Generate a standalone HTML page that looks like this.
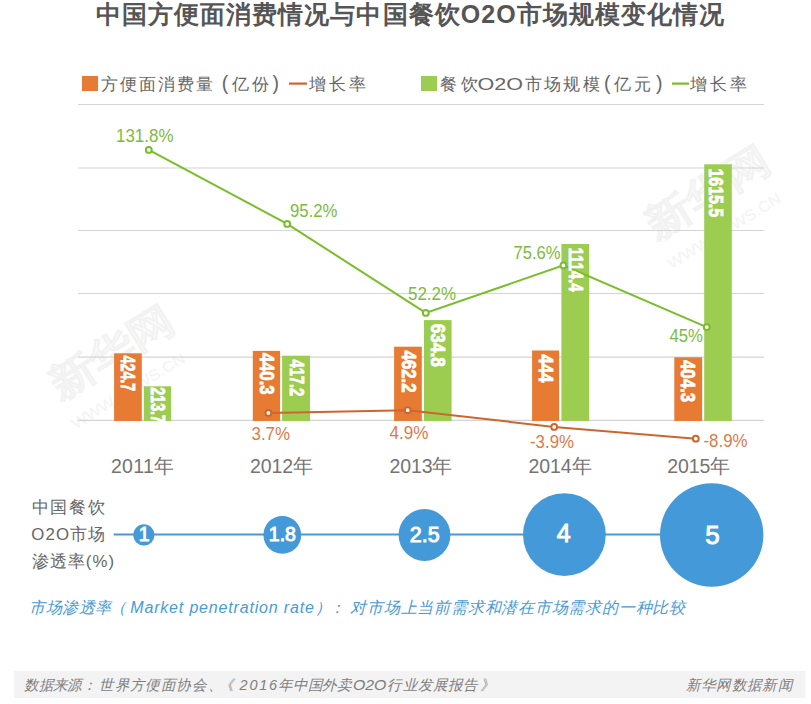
<!DOCTYPE html>
<html><head><meta charset="utf-8">
<style>
html,body{margin:0;padding:0;background:#fff;width:811px;height:704px;overflow:hidden}
svg{display:block;font-family:"Liberation Sans",sans-serif}
.t{fill:#555;font-weight:bold;font-size:25px}
.lg{fill:#666;font-size:17px}
.yr{fill:#747474;font-size:19.5px}
.pg{fill:#7dbb3e;font-size:19px}
.po{fill:#dc7a48;font-size:18.5px}
.bl{fill:#fff;font-weight:bold;stroke:#fff;stroke-width:0.8px}
.bb{fill:#fff;text-anchor:middle;stroke:#fff;stroke-width:0.9px}
.side{fill:#666;font-size:16.8px}
.note{fill:#4a9ad6;font-size:16px;font-style:italic}
.ft{fill:#7e7e7e;font-size:14.5px;font-style:italic}
.wm{fill:none;stroke:#f2f2f2;stroke-width:0.8px;font-weight:bold}
</style></head><body>
<svg width="811" height="704" viewBox="0 0 811 704">

<g>
<g transform="translate(60,400) rotate(-31.5)"><text class="wm" x="0" y="0" font-size="40" textLength="138" lengthAdjust="spacingAndGlyphs">新华网</text><text x="-2" y="33" font-size="15" fill="#f3f3f3" textLength="130" lengthAdjust="spacingAndGlyphs">WWW.NEWS.CN</text></g>
<g transform="translate(656,240) rotate(-31.5)"><text class="wm" x="0" y="0" font-size="40" textLength="138" lengthAdjust="spacingAndGlyphs">新华网</text><text x="-2" y="33" font-size="15" fill="#f3f3f3" textLength="130" lengthAdjust="spacingAndGlyphs">WWW.NEWS.CN</text></g>
</g>
<text class="t" x="96" y="23.3" textLength="628" lengthAdjust="spacing">中国方便面消费情况与中国餐饮O2O市场规模变化情况</text>
<rect x="82" y="76" width="16" height="15" fill="#e87b34"/>
<g class="lg">
<text class="" x="100.5" y="90" textLength="112" lengthAdjust="spacing">方便面消费量</text>
<text class="" x="221.8" y="90" font-size="19.5">(</text>
<text class="" x="231.8" y="90" textLength="37.4" lengthAdjust="spacing">亿份</text>
<text class="" x="272.6" y="90" font-size="19.5">)</text>
<text class="" x="309" y="90" textLength="56.5" lengthAdjust="spacing">增长率</text>
<text class="" x="440.3" y="90" textLength="37.4" lengthAdjust="spacing">餐饮</text>
<text class="" x="477.5" y="90" textLength="45.5" lengthAdjust="spacingAndGlyphs">O2O</text>
<text class="" x="524.6" y="90" textLength="75" lengthAdjust="spacing">市场规模</text>
<text class="" x="604" y="90" font-size="19.5">(</text>
<text class="" x="613.6" y="90" textLength="37.4" lengthAdjust="spacing">亿元</text>
<text class="" x="656" y="90" font-size="19.5">)</text>
<text class="" x="690" y="90" textLength="56.5" lengthAdjust="spacing">增长率</text>
</g>
<rect x="289" y="82.5" width="18" height="2.2" fill="#cd662e"/>
<rect x="421" y="76" width="16" height="15" fill="#9ccc50"/>
<rect x="672" y="82.5" width="17" height="2.2" fill="#79be2a"/>
<g stroke="#d4d4d4" stroke-width="1.2">
<line x1="78" y1="104.5" x2="764" y2="104.5"/>
<line x1="78" y1="168" x2="764" y2="168"/>
<line x1="78" y1="230.5" x2="764" y2="230.5"/>
<line x1="78" y1="293.5" x2="764" y2="293.5"/>
<line x1="78" y1="357.2" x2="764" y2="357.2"/>
<line x1="78" y1="420.4" x2="764" y2="420.4"/>
</g>
<rect x="114.1" y="353.3" width="27.70" height="67.70" fill="#e87b34"/>
<rect x="252.8" y="350.9" width="27.30" height="70.10" fill="#e87b34"/>
<rect x="394.1" y="346.7" width="27.70" height="74.30" fill="#e87b34"/>
<rect x="532.1" y="350.5" width="27.00" height="70.50" fill="#e87b34"/>
<rect x="674.3" y="357.3" width="27.80" height="63.70" fill="#e87b34"/>
<rect x="143.8" y="386.3" width="27.30" height="34.70" fill="#9ccc50"/>
<rect x="282.1" y="355.7" width="27.90" height="65.30" fill="#9ccc50"/>
<rect x="424.0" y="320.1" width="27.60" height="100.90" fill="#9ccc50"/>
<rect x="561.4" y="244.0" width="27.80" height="177.00" fill="#9ccc50"/>
<rect x="704.2" y="164.3" width="27.60" height="256.70" fill="#9ccc50"/>
<polyline points="148.8,149.9 287.2,223.9 425.8,312.9 563.4,265.4 706.7,327.1" fill="none" stroke="#79be2a" stroke-width="2"/>
<g fill="#fff" stroke="#79be2a" stroke-width="2">
<circle cx="148.8" cy="149.9" r="2.9"/>
<circle cx="287.2" cy="223.9" r="2.9"/>
<circle cx="425.8" cy="312.9" r="2.9"/>
<circle cx="563.4" cy="265.4" r="2.9"/>
<circle cx="706.7" cy="327.1" r="2.9"/>
</g>
<g class="pg">
<text class="" x="116" y="141.8" textLength="57.5" lengthAdjust="spacingAndGlyphs">131.8%</text>
<text class="" x="290" y="217.1" textLength="47.5" lengthAdjust="spacingAndGlyphs">95.2%</text>
<text class="" x="408" y="299.9" textLength="48" lengthAdjust="spacingAndGlyphs">52.2%</text>
<text class="" x="513.5" y="259.3" textLength="47" lengthAdjust="spacingAndGlyphs">75.6%</text>
<text class="" x="669.5" y="341.8" textLength="33.5" lengthAdjust="spacingAndGlyphs">45%</text>
</g>
<polyline points="268.4,412.9 407.7,410.2 554.2,426.9 695.8,438.7" fill="none" stroke="#cd662e" stroke-width="2"/>
<g fill="#fff" stroke="#cd662e" stroke-width="2">
<circle cx="268.4" cy="412.9" r="2.9"/>
<circle cx="407.7" cy="410.2" r="2.9"/>
<circle cx="554.2" cy="426.9" r="2.9"/>
<circle cx="695.8" cy="438.7" r="2.9"/>
</g>
<g class="po">
<text class="" x="251.5" y="440.2" textLength="38.5" lengthAdjust="spacingAndGlyphs">3.7%</text>
<text class="" x="389.5" y="438.7" textLength="39" lengthAdjust="spacingAndGlyphs">4.9%</text>
<text class="" x="530" y="448.3" textLength="44" lengthAdjust="spacingAndGlyphs">-3.9%</text>
<text class="" x="703.5" y="446.6" textLength="44" lengthAdjust="spacingAndGlyphs">-8.9%</text>
</g>
<g class="bl">
<text font-size="19.5" transform="translate(120.8,355.6) rotate(90) scale(0.73,1)">424.7</text>
<text font-size="19.5" transform="translate(151.0,387.3) rotate(90) scale(0.73,1)">213.7</text>
<text font-size="20.5" transform="translate(260.2,352.7) rotate(90) scale(0.818,1)">440.3</text>
<text font-size="20.5" transform="translate(289.7,359.6) rotate(90) scale(0.715,1)">417.2</text>
<text font-size="20.5" transform="translate(402.2,350.6) rotate(90) scale(0.818,1)">462.2</text>
<text font-size="20.5" transform="translate(430.6,323.8) rotate(90) scale(0.84,1)">634.8</text>
<text font-size="19.5" transform="translate(539.3,354.2) rotate(90) scale(0.87,1)">444</text>
<text font-size="20.5" transform="translate(569.2,247.5) rotate(90) scale(0.73,1)">1114.4</text>
<text font-size="20.5" transform="translate(680.7,359.9) rotate(90) scale(0.826,1)">404.3</text>
<text font-size="21" transform="translate(709.3,168.5) rotate(90) scale(0.757,1)">1615.5</text>
</g>
<g class="yr">
<text class="" x="111" y="473" textLength="63" lengthAdjust="spacing">2011年</text>
<text class="" x="250" y="473" textLength="63" lengthAdjust="spacing">2012年</text>
<text class="" x="389.4" y="473" textLength="63" lengthAdjust="spacing">2013年</text>
<text class="" x="528.5" y="473" textLength="63" lengthAdjust="spacing">2014年</text>
<text class="" x="667.3" y="473" textLength="63" lengthAdjust="spacing">2015年</text>
</g>
<g class="side">
<text class="" x="31.5" y="512.5" textLength="73" lengthAdjust="spacing">中国餐饮</text>
<text class="" x="31.3" y="539.5" textLength="74" lengthAdjust="spacing">O2O市场</text>
<text class="" x="31.5" y="566.5" textLength="82.5" lengthAdjust="spacing">渗透率(%)</text>
</g>
<line x1="113.7" y1="534.5" x2="662" y2="534.5" stroke="#449ad9" stroke-width="2"/>
<g fill="#449ad9">
<circle cx="143.9" cy="534.9" r="10.6"/>
<circle cx="282.3" cy="534.9" r="18.9"/>
<circle cx="424.5" cy="535" r="25.9"/>
<circle cx="564.4" cy="534.6" r="41.4"/>
<circle cx="711.7" cy="535" r="51.7"/>
</g>
<g class="bb">
<text x="144.2" y="541.3" font-size="19.5">1</text>
<text x="282.4" y="541.3" font-size="19.5">1.8</text>
<text x="424.8" y="542.2" font-size="21.5">2.5</text>
<text x="563.8" y="542.1" font-size="25">4</text>
<text x="712.6" y="543.5" font-size="26">5</text>
</g>
<g class="note">
<text class="" x="29" y="612.6" textLength="82" lengthAdjust="spacing">市场渗透率</text>
<text class="" x="110.0" y="612.6" >（</text>
<text class="" x="130.3" y="612.6" textLength="183.5" lengthAdjust="spacing">Market penetration rate</text>
<text class="" x="315.4" y="612.6" >）</text>
<text class="" x="329.4" y="612.6" >：</text>
<text class="" x="350.2" y="612.6" textLength="335" lengthAdjust="spacing">对市场上当前需求和潜在市场需求的一种比较</text>
</g>
<rect x="14" y="671" width="791.5" height="27" fill="#f3f3f3"/>
<g class="ft">
<text class="" x="24.3" y="689.6" textLength="58" lengthAdjust="spacing">数据来源</text>
<text class="" x="82.2" y="689.6" >：</text>
<text class="" x="99.1" y="689.6" textLength="107.5" lengthAdjust="spacing">世界方便面协会</text>
<text class="" x="208.2" y="689.6" >、</text>
<text class="" x="218.5" y="689.6" >《</text>
<text class="" x="239.6" y="689.6" textLength="37.5" lengthAdjust="spacing">2016</text>
<text class="" x="278.3" y="689.6" textLength="73.5" lengthAdjust="spacing">年中国外卖</text>
<text class="" x="352.9" y="689.6" textLength="33.5" lengthAdjust="spacingAndGlyphs">O2O</text>
<text class="" x="387.4" y="689.6" textLength="90.5" lengthAdjust="spacing">行业发展报告</text>
<text class="" x="479.8" y="689.6" >》</text>
<text class="" x="685.8" y="689.6" textLength="107" lengthAdjust="spacing">新华网数据新闻</text>
</g>
</svg>
</body></html>
